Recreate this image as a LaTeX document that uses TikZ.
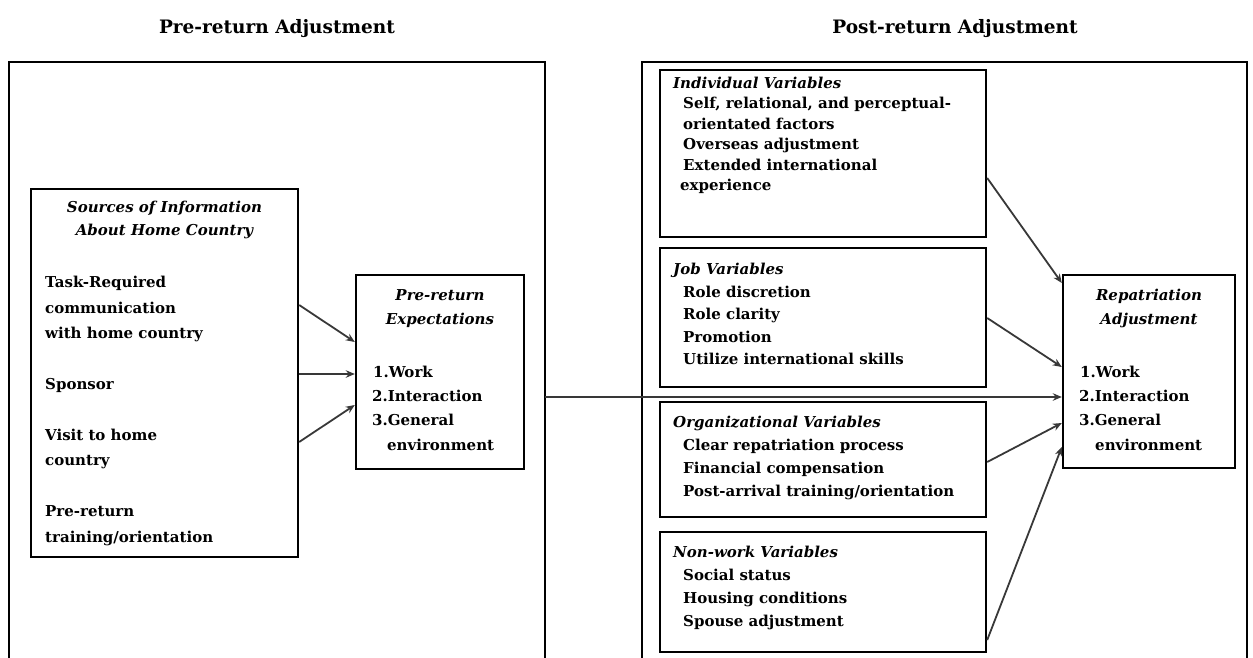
\documentclass[tikz,border=0pt]{standalone}
\usepackage{fontspec}
\setmainfont{DejaVu Serif}
\usetikzlibrary{arrows.meta}
\begin{document}
\begin{tikzpicture}[x=1pt,y=-1pt,
  frame/.style={line width=2.6pt},
  box/.style={draw, line width=2.4pt, inner sep=0pt},
  txt/.style={inner sep=0pt, text height=0.72em, text depth=0.22em, font=\fontsize{15}{18}\selectfont\bfseries},
  hd/.style={txt, font=\fontsize{15}{18}\selectfont\bfseries\itshape},
  ttl/.style={inner sep=0pt, font=\fontsize{18.5}{22}\selectfont\bfseries},
  arr/.style={draw=black!78, line width=1.8pt, -{Stealth[length=9pt,width=7.5pt]}},
]
\useasboundingbox (0,0) rectangle (1253,658);

% section headings
\node[ttl] (pre-title) at (277,29) {Pre-return Adjustment};
\node[ttl] (post-title) at (955,29) {Post-return Adjustment};

% open frames of the two stages
\draw[frame] (9,670) -- (9,62) -- (545,62) -- (545,670);
\draw[frame] (642,670) -- (642,62) -- (1247,62) -- (1247,670);
\coordinate (lframe) at (545,62);

% boxes
\node[box, minimum width=267pt, minimum height=368pt] (src) at (164.5,373) {};
\node[box, minimum width=168pt, minimum height=194pt] (exp) at (440,372) {};
\node[box, minimum width=172pt, minimum height=193pt] (rep) at (1149,371.5) {};
\node[box, minimum width=326pt, minimum height=167pt] (ind) at (823,153.5) {};
\node[box, minimum width=326pt, minimum height=139pt] (job) at (823,317.5) {};
\node[box, minimum width=326pt, minimum height=115pt] (org) at (823,459.5) {};
\node[box, minimum width=326pt, minimum height=120pt] (nwk) at (823,592) {};

% sources of information
\node[hd] (src-h1) at (164.5,210) {Sources of Information};
\node[hd] (src-h2) at (164.5,233) {About Home Country};
\foreach \n/\y/\t in {1/285/{Task-Required}, 2/311/{communication}, 3/336/{with home country},
    4/387/{Sponsor}, 5/438/{Visit to home}, 6/463/{country}, 7/514/{Pre-return},
    8/540/{training/orientation}}
  \node[txt, anchor=west] (src-\n) at (45,\y) {\t};

% pre-return expectations
\node[hd] (exp-h1) at (440,298) {Pre-return};
\node[hd] (exp-h2) at (440,322) {Expectations};
\foreach \n/\x/\y/\t in {1/373/375/{1.Work}, 2/372/399/{2.Interaction}, 3/372/423/{3.General}, 4/387/448/{environment}}
  \node[txt, anchor=west] (exp-\n) at (\x,\y) {\t};

% repatriation adjustment
\node[hd] (rep-h1) at (1149,298) {Repatriation};
\node[hd] (rep-h2) at (1149,322) {Adjustment};
\foreach \n/\x/\y/\t in {1/1080/375/{1.Work}, 2/1079/399/{2.Interaction}, 3/1079/423/{3.General}, 4/1095/448/{environment}}
  \node[txt, anchor=west] (rep-\n) at (\x,\y) {\t};

% individual variables
\node[hd, anchor=west] (ind-h) at (673,86) {Individual Variables};
\foreach \n/\x/\y/\t in {1/683/106/{Self, relational, and perceptual-}, 2/683/127/{orientated factors},
    3/683/147/{Overseas adjustment}, 4/683/168/{Extended international}, 5/680/188/{experience}}
  \node[txt, anchor=west] (ind-\n) at (\x,\y) {\t};

% job variables
\node[hd, anchor=west] (job-h) at (673,272) {Job Variables};
\foreach \n/\y/\t in {1/295/{Role discretion}, 2/317/{Role clarity}, 3/340/{Promotion}, 4/362/{Utilize international skills}}
  \node[txt, anchor=west] (job-\n) at (683,\y) {\t};

% organizational variables
\node[hd, anchor=west] (org-h) at (673,425) {Organizational Variables};
\foreach \n/\y/\t in {1/448/{Clear repatriation process}, 2/471/{Financial compensation}, 3/494/{Post-arrival training/orientation}}
  \node[txt, anchor=west] (org-\n) at (683,\y) {\t};

% non-work variables
\node[hd, anchor=west] (nwk-h) at (673,555) {Non-work Variables};
\foreach \n/\y/\t in {1/578/{Social status}, 2/601/{Housing conditions}, 3/624/{Spouse adjustment}}
  \node[txt, anchor=west] (nwk-\n) at (683,\y) {\t};

% connectors
\draw[arr] (src.east |- 0,305) -- (exp.west |- 0,342);
\draw[arr] (src.east |- 0,374) -- (exp.west |- 0,374);
\draw[arr] (src.east |- 0,442) -- (exp.west |- 0,405);
\draw[arr] (lframe |- 0,397) -- (rep.west |- 0,397);
\draw[arr] (ind.east |- 0,178) -- (rep.west |- 0,283);
\draw[arr] (job.east |- 0,318) -- (rep.west |- 0,367);
\draw[arr] (org.east |- 0,462) -- (rep.west |- 0,423);
\draw[arr] (nwk.east |- 0,640) -- (rep.west |- 0,447);
\end{tikzpicture}
\end{document}
